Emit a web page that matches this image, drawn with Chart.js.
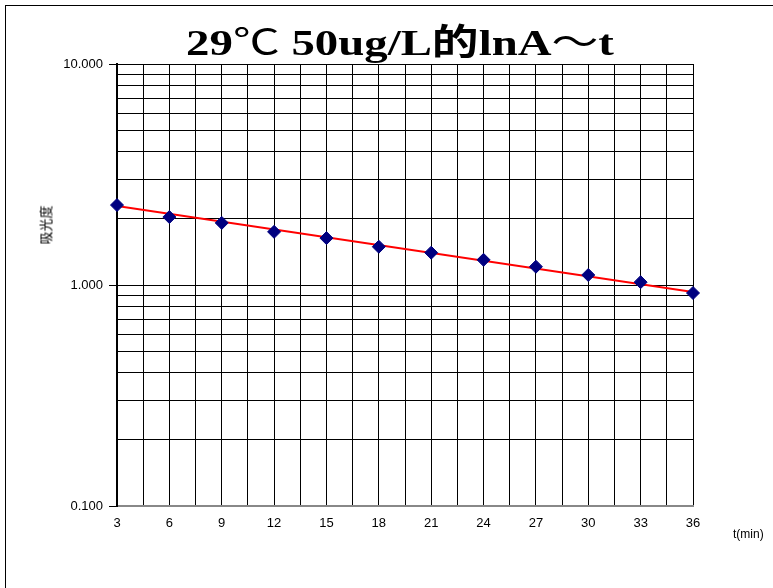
<!DOCTYPE html>
<html>
<head>
<meta charset="utf-8">
<script src="https://cdn.jsdelivr.net/npm/chart.js@4"></script>
<style>
  body{margin:0;background:#fff;}
  #wrap{position:relative;width:773px;height:588px;overflow:hidden;}
  #frame{position:absolute;left:5px;top:5px;width:780px;height:600px;border:1px solid #000;box-sizing:border-box;}
  canvas{position:absolute;left:0;top:0;}
  .txt{position:absolute;white-space:nowrap;}
  #title{left:0;width:800px;top:13px;line-height:1;text-align:center;font:bold 36px "Liberation Serif","Noto Sans CJK SC",serif;color:#000;transform:scaleX(1.3);transform-origin:400px 0;}
  #title .thin{font-weight:normal;}
  #ytitle{left:45px;top:225px;transform:translate(-50%,-50%) rotate(-90deg);font:13px "Noto Sans CJK SC",sans-serif;}
  #xtitle{left:733px;top:527px;font:12px "Liberation Sans",Arial,sans-serif;}
</style>
</head>
<body>
<div id="wrap">
  <div id="frame"></div>
  <canvas id="chart" width="773" height="588"></canvas>
  <div class="txt" id="title">29<span class="thin">℃</span> 50ug/L的lnA<span class="thin">～</span>t</div>
  <div class="txt" id="ytitle">吸光度</div>
  <div class="txt" id="xtitle">t(min)</div>
</div>
<script>
// measured points
const times=[3,6,9,12,15,18,21,24,27,30,33,36];
const absorb=[2.30,2.03,1.91,1.74,1.63,1.49,1.40,1.30,1.21,1.11,1.03,0.92];
// red trend line, read at its two ends
const trendT=[3,36];
const trendA=[2.28,0.93];
const yMajor=[0.1,1,10];

// log grid: 1..9 in each decade
const yTicks=[];
[0.1,1].forEach(d=>{for(let i=1;i<10;i++)yTicks.push(+(d*i).toFixed(3));});
yTicks.push(10);

const ctx=document.getElementById('chart').getContext('2d');
new Chart(ctx,{
  type:'scatter',
  data:{
    datasets:[{
      label:'trend',
      data:trendT.map((t,i)=>({x:t,y:trendA[i]})),
      showLine:true,
      borderColor:'#ff0000',
      borderWidth:2,
      pointRadius:0,
      order:2
    },{
      label:'A',
      data:times.map((t,i)=>({x:t,y:absorb[i]})),
      showLine:false,
      clip:false,
      pointStyle:'rectRot',
      pointRadius:6.5,
      backgroundColor:'#000080',
      borderColor:'#000080',
      order:1
    }]
  },
  options:{
    responsive:false,
    animation:false,
    layout:{padding:{top:64,right:80,left:0,bottom:0}},
    plugins:{legend:{display:false},tooltip:{enabled:false}},
    scales:{
      x:{
        type:'linear',min:3,max:36,
        afterBuildTicks:s=>{const t=[];for(let v=3;v<=36;v+=1.5)t.push({value:v});s.ticks=t;},
        afterFit:s=>{s.height=82;},
        ticks:{
          autoSkip:false,maxRotation:0,padding:10,color:'#000',
          font:{family:'"Liberation Sans", Arial, sans-serif',size:13},
          callback:v=>(v%3===0?String(v):'')
        },
        grid:{color:'#000',lineWidth:1,drawTicks:false},
        border:{color:'#888',width:2}
      },
      y:{
        type:'logarithmic',min:0.1,max:10,
        afterBuildTicks:s=>{s.ticks=yTicks.map(v=>({value:v}));},
        afterFit:s=>{s.width=117;},
        ticks:{
          autoSkip:false,padding:6,color:'#000',
          font:{family:'"Liberation Sans", Arial, sans-serif',size:13},
          callback:v=>(yMajor.some(m=>Math.abs(m-v)<1e-9)?v.toFixed(3):'')
        },
        grid:{
          color:'#000',lineWidth:1,tickLength:8,
          tickColor:c=>(yMajor.some(m=>Math.abs(m-c.tick.value)<1e-9)?'#000':'rgba(0,0,0,0)')
        },
        border:{color:'#000',width:2}
      }
    }
  }
});
</script>
</body>
</html>
